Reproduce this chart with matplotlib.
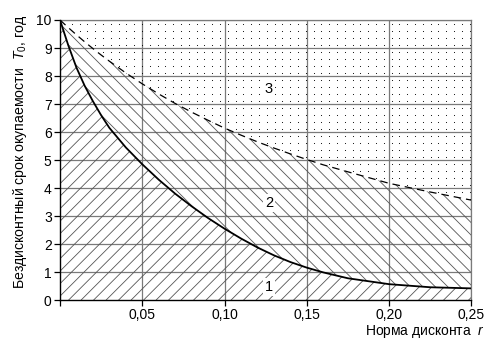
import numpy as np
import matplotlib
matplotlib.use('Agg')
import matplotlib.pyplot as plt
from matplotlib.collections import LineCollection

plt.rcParams['font.family'] = ['Liberation Sans', 'DejaVu Sans']
plt.rcParams['mathtext.fontset'] = 'custom'
plt.rcParams['mathtext.rm'] = 'Liberation Sans'
plt.rcParams['mathtext.it'] = 'Liberation Sans:italic'

# норма дисконта
r = [0, 0.005, 0.01, 0.015, 0.02, 0.025, 0.03, 0.04, 0.05, 0.06, 0.07, 0.08,
     0.09, 0.10, 0.11, 0.12, 0.13, 0.14, 0.15, 0.16, 0.175, 0.20, 0.225, 0.25]
# нижняя граница (сплошная)
t_low = [10, 9.1, 8.3, 7.65, 7.1, 6.6, 6.15, 5.45, 4.85, 4.3, 3.8, 3.35,
         2.93, 2.55, 2.2, 1.88, 1.6, 1.36, 1.16, 0.99, 0.78, 0.57, 0.46, 0.42]
# верхняя граница (пунктир)
t_up = [10, 9.73, 9.47, 9.22, 8.98, 8.75, 8.53, 8.11, 7.72, 7.36, 7.02, 6.71,
        6.42, 6.14, 5.89, 5.65, 5.43, 5.22, 5.02, 4.83, 4.58, 4.17, 3.86, 3.57]

x_ticks = [0, 0.05, 0.10, 0.15, 0.20, 0.25]
x_labels = ['', '0,05', '0,10', '0,15', '0,20', '0,25']
y_ticks = [0, 1, 2, 3, 4, 5, 6, 7, 8, 9, 10]

zones = [('1', 0.127, 0.48), ('2', 0.127, 3.46), ('3', 0.127, 7.52)]

fig = plt.figure(figsize=(4.98, 3.49), dpi=100)
ax = fig.add_axes([0.1205, 0.14, 0.826, 0.8027])
ax.set_xlim(0, 0.25)
ax.set_ylim(0, 10)

W = 0.826 * 498
H = 0.8027 * 349

# сетка
for yv in y_ticks[1:]:
    ax.axhline(yv, color='#7a7a7a', lw=0.9, zorder=1)
for xv in x_ticks[1:]:
    ax.axvline(xv, color='#7a7a7a', lw=0.9, zorder=1)

# области
reg1 = ax.fill_between(r, 0, t_low, facecolor='none', edgecolor='none')
reg2 = ax.fill_between(r, t_low, t_up, facecolor='none', edgecolor='none')
reg3 = ax.fill_between(r, t_up, 10, facecolor='none', edgecolor='none')


def hatch(region, sign, step=12.5):
    segs = []
    for c in np.arange(-H - W, W + H, step):
        if sign > 0:
            segs.append([(c / W, 0), ((c + H) / W, 1)])
        else:
            segs.append([(c / W, 1), ((c + H) / W, 0)])
    lc = LineCollection(segs, colors='#555555', linewidths=0.6,
                        transform=ax.transAxes, zorder=2)
    ax.add_collection(lc)
    lc.set_clip_path(region.get_paths()[0], ax.transData)


hatch(reg1, 1)
hatch(reg2, -1)

# точки
xs = np.arange(4, W, 7.8) / W
ys = np.arange(3.5, H, 7.0) / H
gx, gy = np.meshgrid(xs, ys)
dots = ax.scatter(gx.ravel(), gy.ravel(), s=0.6, marker='o', linewidths=0,
                  color='black', transform=ax.transAxes, zorder=2)
dots.set_clip_path(reg3.get_paths()[0], ax.transData)

ax.plot(r, t_low, color='black', lw=1.3, zorder=4, solid_joinstyle='round')
ax.plot(r, t_up, color='black', lw=0.9, dashes=(6, 4), zorder=4)

for name, xv, yv in zones:
    ax.text(xv, yv, name, fontsize=10.5, ha='center', va='center', zorder=5,
            bbox=dict(facecolor='white', edgecolor='none', pad=1.5))

ax.set_xticks(x_ticks)
ax.set_xticklabels(x_labels)
ax.set_yticks(y_ticks)
ax.tick_params(labelsize=10, length=4, width=0.9, color='black')
ax.tick_params(axis='x', pad=2)
ax.tick_params(axis='y', pad=2)

for s in ['top', 'right']:
    ax.spines[s].set_color('#7a7a7a')
    ax.spines[s].set_linewidth(0.9)
for s in ['left', 'bottom']:
    ax.spines[s].set_linewidth(1.0)
    ax.spines[s].set_zorder(6)

ax.set_ylabel('Бездисконтный срок окупаемости  $T_0$, год', fontsize=10.2)
ax.yaxis.set_label_coords(-0.075, 0.53)
fig.text(0.974, 0.049, 'Норма дисконта  $r$', fontsize=10, ha='right',
         va='center')

plt.savefig('out.png', dpi=100)
